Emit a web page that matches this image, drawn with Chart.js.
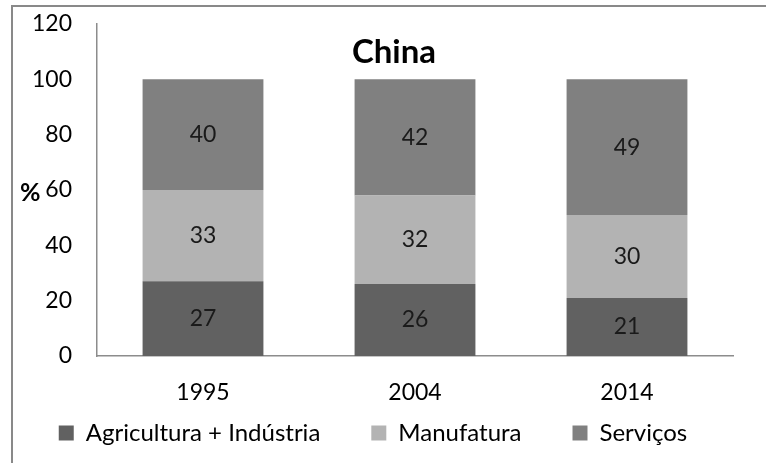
<!DOCTYPE html>
<html>
<head>
<meta charset="utf-8">
<script src="https://cdn.jsdelivr.net/npm/chart.js@4"></script>
<style>
  html, body { margin: 0; padding: 0; background: #fff; }
  #box { width: 766px; height: 463px; }
</style>
</head>
<body>
<div id="box"><canvas id="grafico" width="766" height="463"></canvas></div>
<script>
const anos = ['1995', '2004', '2014'];
const agriculturaIndustria = [27, 26, 21];
const manufatura = [33, 32, 30];
const servicos = [40, 42, 49];
const ticksY = [0, 20, 40, 60, 80, 100, 120];

const fonte = 'Lato, "Open Sans", sans-serif';

// moldura, titulo, "%" e valores dentro das barras
const extras = {
    id: 'extras',
    beforeDraw(chart) {
        const ctx = chart.ctx;
        ctx.save();
        ctx.strokeStyle = '#898989';
        ctx.lineWidth = 2;
        ctx.beginPath();
        ctx.moveTo(12, 463);
        ctx.lineTo(12, 6);
        ctx.lineTo(766, 6);
        ctx.stroke();
        ctx.restore();
    },
    afterDatasetsDraw(chart) {
        const ctx = chart.ctx;
        ctx.save();
        ctx.fillStyle = '#1a1a1a';
        ctx.font = '23px ' + fonte;
        ctx.textAlign = 'center';
        ctx.textBaseline = 'middle';
        chart.data.datasets.forEach((ds, i) => {
            chart.getDatasetMeta(i).data.forEach((bar, j) => {
                const c = bar.getCenterPoint();
                ctx.fillText(String(ds.data[j]), c.x, c.y);
            });
        });

        ctx.fillStyle = '#000';
        ctx.font = 'bold 33px ' + fonte;
        ctx.fillText('China', 394, 52);

        const y60 = chart.scales.y.getPixelForValue(60);
        ctx.font = 'bold 25px ' + fonte;
        ctx.textAlign = 'left';
        ctx.fillText('%', 20, y60 + 3);
        ctx.restore();
    }
};

new Chart(document.getElementById('grafico'), {
    type: 'bar',
    data: {
        labels: anos,
        datasets: [
            { label: 'Agricultura + Indústria', data: agriculturaIndustria, backgroundColor: '#616161' },
            { label: 'Manufatura', data: manufatura, backgroundColor: '#b3b3b3' },
            { label: 'Serviços', data: servicos, backgroundColor: '#808080' }
        ]
    },
    options: {
        responsive: false,
        animation: false,
        layout: { padding: { left: 13, right: 33, top: 24, bottom: 8 } },
        datasets: { bar: { categoryPercentage: 1, barPercentage: 0.57, borderWidth: 0 } },
        plugins: {
            legend: {
                position: 'bottom',
                labels: {
                    boxWidth: 15,
                    boxHeight: 15,
                    padding: 15,
                    color: '#000',
                    font: { family: fonte, size: 24 },
                    // espaco extra entre os itens da legenda
                    generateLabels(chart) {
                        const itens = Chart.defaults.plugins.legend.labels.generateLabels(chart);
                        itens.forEach((it, i) => {
                            if (i < itens.length - 1) it.text += '\u2002\u2002\u2002';
                        });
                        return itens;
                    }
                }
            },
            tooltip: { enabled: false }
        },
        scales: {
            x: {
                stacked: true,
                grid: { display: false, drawTicks: false },
                border: { display: true, color: '#8c8c8c', width: 1.5 },
                ticks: { color: '#000', padding: 23, font: { family: fonte, size: 23 } },
                afterFit(scale) { scale.height = 50; }
            },
            y: {
                stacked: true,
                min: 0,
                max: 120,
                grid: { display: false, drawTicks: false },
                border: { display: true, color: '#8c8c8c', width: 1.5 },
                afterBuildTicks(scale) { scale.ticks = ticksY.map(v => ({ value: v })); },
                ticks: { color: '#000', padding: 25, font: { family: fonte, size: 23 } },
                afterFit(scale) {
                    scale.width = 84;
                    scale.paddingTop = 0;
                    scale.paddingBottom = 0;
                }
            }
        }
    },
    plugins: [extras]
});
</script>
</body>
</html>
